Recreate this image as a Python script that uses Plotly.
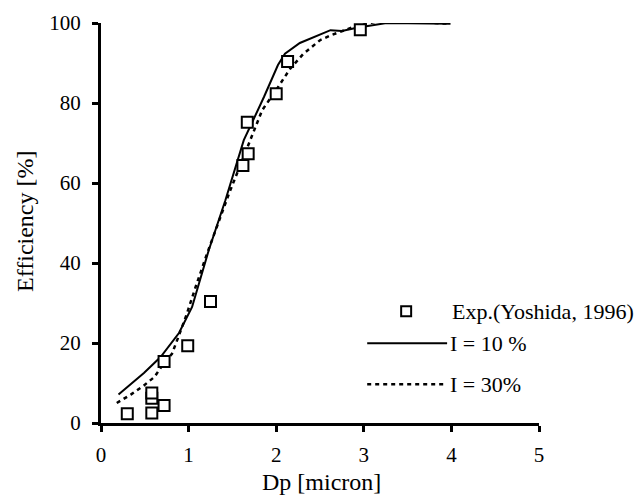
import plotly.graph_objects as go

# Experimental data (Yoshida, 1996)
exp_x = [0.30, 0.58, 0.58, 0.58, 0.72, 0.72, 0.99, 1.25, 1.62, 1.68, 1.67, 2.00, 2.13, 2.96]
exp_y = [2.3, 2.5, 6.2, 7.5, 4.4, 15.4, 19.3, 30.4, 64.4, 67.3, 75.2, 82.3, 90.4, 98.3]

# Model I = 10 %
i10_x = [0.20, 0.49, 0.68, 0.89, 1.04, 1.23, 1.42, 1.63, 1.86, 2.02, 2.10, 2.27, 2.62, 2.75, 2.92, 3.26, 3.99]
i10_y = [7.1, 12.5, 16.5, 22.5, 29.0, 43.2, 55.7, 70.7, 81.5, 89.5, 92.3, 95.0, 98.2, 98.0, 98.8, 100.0, 99.8]

# Model I = 30 %
i30_x = [0.18, 0.34, 0.49, 0.61, 0.70, 0.81, 0.89, 0.98, 1.08, 1.21, 1.46, 1.70, 1.84, 2.01, 2.16, 2.31, 2.50, 2.62, 2.88, 3.15, 3.45, 3.99]
i30_y = [5.0, 7.1, 9.4, 11.5, 14.4, 17.3, 21.9, 27.3, 34.0, 42.3, 57.3, 70.7, 78.2, 83.6, 88.6, 92.3, 95.7, 96.9, 99.0, 100.4, 100.4, 99.8]

x_ticks = [0, 1, 2, 3, 4, 5]
y_ticks = [0, 20, 40, 60, 80, 100]

FONT = "Liberation Serif"
FS_TICK = 21
FS_LEG = 22
FS_TITLE = 24

fig = go.Figure()
fig.add_trace(go.Scatter(x=i30_x, y=i30_y, mode="lines",
                         line=dict(color="black", width=2.5, dash="4px,4px"),
                         name="I = 30%", showlegend=False))
fig.add_trace(go.Scatter(x=i10_x, y=i10_y, mode="lines",
                         line=dict(color="black", width=2),
                         name="I = 10 %", showlegend=False))
fig.add_trace(go.Scatter(x=exp_x, y=exp_y, mode="markers",
                         marker=dict(symbol="square", size=11, color="white",
                                     line=dict(color="black", width=2)),
                         name="Exp.(Yoshida, 1996)", showlegend=False, cliponaxis=False))

# Legend (drawn manually to match the reference layout)
W, H = 639, 498
L, R, T, B = 100.5, 100, 22.5, 75.3
pw, ph = W - L - R, H - T - B

def px(xp):
    return (xp - L) / pw

def py(yp):
    return (H - B - yp) / ph

shapes = [
    dict(type="rect", xref="paper", yref="paper",
         x0=px(401), x1=px(411), y0=py(306), y1=py(316),
         line=dict(color="black", width=2), fillcolor="white"),
    dict(type="line", xref="paper", yref="paper",
         x0=px(367), x1=px(447), y0=py(343), y1=py(343),
         line=dict(color="black", width=2)),
    dict(type="line", xref="paper", yref="paper",
         x0=px(367), x1=px(445), y0=py(384), y1=py(384),
         line=dict(color="black", width=2.5, dash="4px,4px")),
]
annotations = [
    dict(text="Exp.(Yoshida, 1996)", xref="paper", yref="paper", x=px(450), y=py(311),
         xanchor="left", yanchor="middle", showarrow=False, font=dict(family=FONT, size=FS_LEG, color="black")),
    dict(text="I = 10 %", xref="paper", yref="paper", x=px(448), y=py(343),
         xanchor="left", yanchor="middle", showarrow=False, font=dict(family=FONT, size=FS_LEG, color="black")),
    dict(text="I = 30%", xref="paper", yref="paper", x=px(448), y=py(384),
         xanchor="left", yanchor="middle", showarrow=False, font=dict(family=FONT, size=FS_LEG, color="black")),
    dict(text="Dp [micron]", xref="paper", yref="paper", x=px(321), y=py(482),
         xanchor="center", yanchor="middle", showarrow=False, font=dict(family=FONT, size=FS_TITLE, color="black")),
    dict(text="Efficiency [%]", xref="paper", yref="paper", x=px(25), y=py(221),
         xanchor="center", yanchor="middle", textangle=-90, showarrow=False,
         font=dict(family=FONT, size=FS_TITLE, color="black")),
]

fig.update_layout(
    width=W, height=H,
    margin=dict(l=L, r=R, t=T, b=B, pad=0),
    paper_bgcolor="white", plot_bgcolor="white",
    font=dict(family=FONT, size=FS_TICK, color="black"),
    shapes=shapes, annotations=annotations,
    xaxis=dict(range=[0, 5], tickvals=x_ticks, ticktext=[str(v) for v in x_ticks],
               showgrid=False, zeroline=False, showline=True, linecolor="black", linewidth=3,
               ticks="outside", ticklen=6, tickwidth=2.5, tickcolor="black",
               ticklabelstandoff=5,
               tickfont=dict(family=FONT, size=FS_TICK)),
    yaxis=dict(range=[0, 100], tickvals=y_ticks, ticktext=[str(v) for v in y_ticks],
               showgrid=False, zeroline=False, showline=True, linecolor="black", linewidth=3,
               ticks="outside", ticklen=6, tickwidth=2.5, tickcolor="black",
               ticklabelstandoff=7,
               tickfont=dict(family=FONT, size=FS_TICK)),
)

fig.write_html("out.html")
